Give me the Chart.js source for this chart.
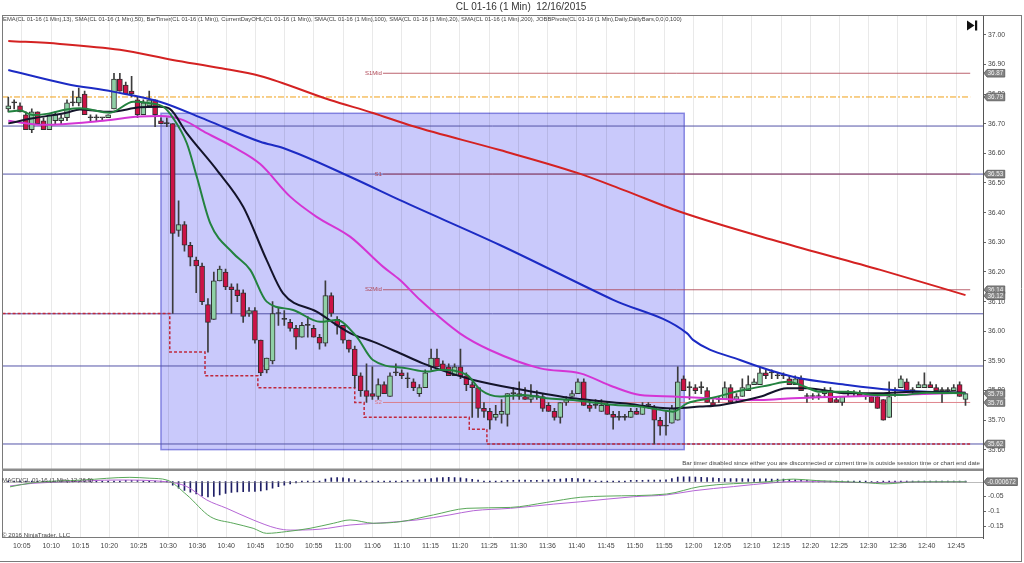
<!DOCTYPE html>
<html><head><meta charset="utf-8">
<script src="https://cdn.jsdelivr.net/npm/chart.js@4/dist/chart.umd.min.js"></script>
<style>html,body{margin:0;padding:0;background:#fff;overflow:hidden}canvas{display:block}</style>
</head><body>
<canvas id="c" width="1024" height="563"></canvas>
<script>
// ---------- DATA ----------
const open  = [36.75,36.77,36.76,36.73,36.68,36.74,36.71,36.68,36.71,36.71,36.72,36.77,36.77,36.80,36.72,36.72,36.72,36.72,36.75,36.85,36.83,36.81,36.78,36.73,36.76,36.78,36.71,36.70,36.70,36.34,36.36,36.29,36.24,36.22,36.09,36.04,36.17,36.20,36.15,36.14,36.13,36.06,36.07,35.97,35.87,35.90,36.06,36.04,36.03,36.01,35.98,36.02,36.01,35.98,35.96,36.12,36.04,36.02,35.97,35.94,35.85,35.80,35.79,35.78,35.82,35.78,35.86,35.86,35.84,35.83,35.79,35.81,35.88,35.91,35.89,35.88,35.85,35.88,35.85,35.82,35.81,35.74,35.73,35.71,35.72,35.72,35.79,35.79,35.78,35.77,35.78,35.78,35.75,35.73,35.71,35.76,35.78,35.79,35.83,35.75,35.75,35.73,35.75,35.72,35.71,35.71,35.71,35.73,35.72,35.75,35.74,35.70,35.68,35.69,35.70,35.84,35.81,35.81,35.81,35.80,35.76,35.77,35.77,35.81,35.77,35.78,35.80,35.82,35.82,35.86,35.86,35.85,35.85,35.84,35.82,35.84,35.78,35.78,35.78,35.79,35.80,35.77,35.76,35.79,35.79,35.79,35.78,35.78,35.78,35.77,35.71,35.80,35.81,35.83,35.80,35.81,35.81,35.82,35.81,35.80,35.80,35.80,35.82,35.77];
const high  = [36.79,36.78,36.77,36.74,36.75,36.74,36.72,36.73,36.74,36.73,36.78,36.81,36.82,36.81,36.73,36.73,36.72,36.73,36.87,36.87,36.84,36.86,36.79,36.78,36.81,36.78,36.72,36.72,36.70,36.44,36.37,36.30,36.25,36.23,36.11,36.20,36.22,36.21,36.16,36.16,36.14,36.08,36.08,35.97,35.91,36.10,36.08,36.07,36.04,36.02,36.03,36.05,36.02,35.99,36.17,36.13,36.05,36.02,35.97,35.95,35.86,35.89,35.88,35.84,35.83,35.86,35.89,35.87,35.86,35.84,35.82,35.87,35.94,35.94,35.90,35.89,35.89,35.94,35.86,35.83,35.81,35.76,35.74,35.75,35.77,35.79,35.81,35.83,35.81,35.82,35.80,35.79,35.76,35.74,35.76,35.78,35.80,35.84,35.84,35.76,35.77,35.77,35.76,35.73,35.73,35.72,35.74,35.74,35.76,35.76,35.75,35.71,35.73,35.75,35.88,35.85,35.83,35.82,35.83,35.81,35.77,35.78,35.83,35.82,35.79,35.84,35.85,35.84,35.88,35.87,35.87,35.86,35.86,35.85,35.85,35.85,35.79,35.79,35.79,35.81,35.81,35.78,35.78,35.80,35.80,35.80,35.79,35.79,35.79,35.77,35.83,35.81,35.85,35.84,35.81,35.83,35.86,35.83,35.82,35.81,35.81,35.82,35.83,35.79];
const low   = [36.74,36.75,36.74,36.68,36.67,36.70,36.68,36.68,36.70,36.70,36.71,36.76,36.76,36.73,36.71,36.71,36.71,36.72,36.75,36.81,36.80,36.79,36.72,36.73,36.76,36.69,36.70,36.69,36.06,36.32,36.27,36.22,36.13,36.09,35.93,36.04,36.17,36.14,36.06,36.10,36.03,36.05,35.96,35.85,35.86,35.89,36.02,36.02,36.00,35.94,35.98,35.98,35.98,35.94,35.95,36.05,35.99,35.96,35.93,35.81,35.78,35.76,35.77,35.77,35.79,35.78,35.85,35.84,35.81,35.80,35.78,35.81,35.87,35.88,35.87,35.85,35.85,35.84,35.80,35.71,35.71,35.71,35.67,35.70,35.69,35.68,35.77,35.77,35.77,35.76,35.77,35.73,35.73,35.70,35.69,35.75,35.78,35.79,35.75,35.73,35.74,35.73,35.72,35.67,35.70,35.70,35.71,35.72,35.72,35.74,35.62,35.65,35.65,35.69,35.70,35.80,35.77,35.79,35.79,35.76,35.75,35.76,35.77,35.76,35.76,35.78,35.80,35.82,35.82,35.84,35.84,35.84,35.84,35.82,35.82,35.80,35.76,35.77,35.77,35.78,35.76,35.76,35.75,35.78,35.78,35.78,35.77,35.76,35.74,35.70,35.71,35.78,35.81,35.80,35.79,35.81,35.81,35.81,35.80,35.76,35.79,35.80,35.78,35.75];
const close = [36.76,36.77,36.74,36.68,36.74,36.70,36.68,36.73,36.73,36.72,36.77,36.77,36.79,36.73,36.72,36.72,36.72,36.73,36.85,36.81,36.80,36.80,36.73,36.77,36.78,36.73,36.70,36.70,36.33,36.36,36.29,36.25,36.22,36.10,36.03,36.17,36.21,36.15,36.14,36.12,36.05,36.07,35.97,35.86,35.91,36.06,36.06,36.04,36.01,35.98,36.02,36.02,35.98,35.96,36.12,36.06,36.02,35.97,35.94,35.85,35.80,35.78,35.78,35.82,35.79,35.85,35.86,35.85,35.84,35.81,35.81,35.86,35.91,35.88,35.87,35.85,35.88,35.85,35.82,35.81,35.74,35.73,35.70,35.72,35.73,35.79,35.79,35.78,35.77,35.78,35.78,35.74,35.73,35.71,35.76,35.77,35.79,35.83,35.75,35.74,35.75,35.75,35.72,35.71,35.71,35.71,35.73,35.72,35.75,35.75,35.70,35.68,35.68,35.74,35.83,35.80,35.81,35.80,35.81,35.76,35.75,35.77,35.81,35.76,35.78,35.81,35.82,35.83,35.86,35.85,35.86,35.85,35.85,35.82,35.84,35.80,35.78,35.78,35.78,35.80,35.76,35.76,35.78,35.79,35.79,35.78,35.78,35.76,35.74,35.70,35.78,35.80,35.84,35.80,35.80,35.82,35.82,35.81,35.80,35.80,35.80,35.81,35.78,35.79];

// moving averages read at sample bars: [barIndex, price]
const ema13  = [[0,36.740],[2,36.744],[4.2,36.729],[6.5,36.733],[9.9,36.748],[12.2,36.752],[17.3,36.737],[21.3,36.774],[24.1,36.769],[26.4,36.757],[28.1,36.718],[30.4,36.634],[32.1,36.521],[34.4,36.364],[38.3,36.263],[41.2,36.207],[44,36.100],[48.5,36.072],[53.1,36.032],[55.9,36.038],[59.3,35.982],[62.1,35.903],[67.9,35.875],[71.3,35.864],[73.5,35.870],[78.1,35.853],[80.4,35.803],[83.7,35.780],[87.7,35.785],[91.7,35.774],[96.2,35.768],[103,35.752],[107.6,35.746],[111,35.735],[113.2,35.729],[115.6,35.757],[119.5,35.774],[125.2,35.802],[129.7,35.819],[132.6,35.830],[134.9,35.819],[138.3,35.796],[142.9,35.796],[148,35.785],[152,35.785],[156.5,35.793],[163,35.791]];
const sma20  = [[0,36.701],[4.2,36.718],[9.9,36.737],[12.2,36.748],[17.3,36.740],[22.4,36.755],[25.8,36.757],[27.5,36.750],[30.4,36.668],[35.5,36.544],[40,36.420],[44,36.240],[46.8,36.128],[52.5,36.066],[58.2,35.994],[62.1,35.965],[66.7,35.926],[70.6,35.892],[79.2,35.836],[87.7,35.802],[96.2,35.774],[104.7,35.757],[113.2,35.740],[117.8,35.746],[121.2,35.751],[128,35.779],[132.6,35.808],[136,35.808],[142.9,35.791],[148.5,35.791],[154.1,35.796],[163,35.793]];
const sma50  = [[0,36.710],[5.9,36.696],[15.6,36.709],[22.4,36.724],[25.8,36.726],[29.8,36.712],[33.8,36.668],[38.3,36.622],[42.9,36.564],[48,36.454],[52.5,36.386],[58.2,36.319],[63.8,36.218],[66.7,36.173],[70.1,36.106],[76.9,35.993],[82,35.937],[90.6,35.875],[97.4,35.858],[103,35.813],[107.6,35.785],[113.2,35.780],[119.5,35.774],[128,35.768],[133.6,35.774],[142.9,35.780],[150.7,35.785],[163,35.793]];
const sma100 = [[0,36.881],[9.9,36.834],[17.8,36.808],[25.8,36.774],[33.8,36.712],[42.9,36.639],[46.8,36.618],[58.2,36.521],[66.7,36.442],[83.7,36.291],[103,36.106],[115.6,35.993],[116.6,35.971],[124.6,35.903],[133.6,35.847],[142.9,35.819],[150.7,35.802],[163,35.791]];
const sma200 = [[0,36.979],[8.8,36.969],[19,36.949],[28,36.915],[36,36.888],[42.9,36.861],[54.8,36.780],[62.1,36.736],[68.8,36.692],[83.7,36.611],[96.9,36.534],[104.7,36.477],[114.4,36.403],[131.4,36.301],[148.5,36.207],[163,36.122]];

// current day low (step changes): [barIndex, price]
const dayLow = [[-1.07,36.53],[27.5,36.06],[33.5,35.93],[42.5,35.85],[59,35.81],[60.6,35.76],[78.5,35.71],[81.5,35.67],[109.6,35.62],[163.8,35.62]];
const dayOpen = 36.79;
const hLines = [36.692, 36.530, 36.059, 35.883, 35.620];
const pivotNames = ['S1Mid','S1','S2Mid','S2'];
const pivotVals  = [36.87, 36.53, 36.14, 35.76];
const pivotSpan  = [63.8, 163.8];
const zoneIdx   = [26.0, 115.1];
const zonePrice = [36.735, 35.601];
const flagVals  = [36.87, 36.79, 36.53, 36.14, 36.12, 35.79, 35.76, 35.62];
const macdFlag  = -0.000672;

// MACD panel
const macdLine = [[0.3,-0.018],[4.2,-0.004],[12.7,0.005],[20.7,0.014],[24.1,0.011],[27,0.005],[30.4,-0.045],[34.4,-0.118],[38.3,-0.140],[41.7,-0.157],[44,-0.174],[47.4,-0.168],[51.4,-0.157],[55.4,-0.140],[58.2,-0.129],[62.2,-0.140],[66.7,-0.135],[72.4,-0.112],[78.1,-0.090],[85.5,-0.087],[91.7,-0.070],[97.4,-0.053],[101.9,-0.049],[112.1,-0.042],[117.8,-0.017],[129.2,-0.001],[133.7,0.008],[137.7,0.003],[146.2,-0.004],[149.1,-0.008],[154.7,-0.001],[163.2,-0.001]];
const macdAvg  = [[0.3,-0.015],[4.2,-0.006],[9.9,-0.001],[18.5,0.005],[27,-0.001],[30.4,-0.017],[33.8,-0.062],[37.2,-0.090],[41.7,-0.129],[45.7,-0.157],[48,-0.163],[53.1,-0.160],[58.2,-0.146],[62.7,-0.140],[69.6,-0.129],[75.2,-0.112],[79.2,-0.098],[85.5,-0.090],[92.8,-0.076],[97.4,-0.068],[106.5,-0.051],[112.1,-0.045],[116.7,-0.031],[123.5,-0.017],[130.3,-0.004],[134.8,0.001],[140.5,-0.001],[146.2,-0.004],[151.9,-0.002],[163.2,-0.001]];
const macdHist = [0,0,0,0,0,0,0,0,0,0,0,0,0,0,0,0,0,0.002,0.002,0.002,0.004,0.004,0.004,0.003,0.003,0.001,0,-0.002,
 -0.012,-0.022,-0.030,-0.036,-0.042,-0.048,-0.052,-0.050,-0.045,-0.040,-0.037,-0.035,-0.034,-0.033,-0.033,-0.032,-0.028,-0.022,-0.017,-0.012,-0.008,-0.005,-0.003,-0.002,-0.001,
 0.002,0.008,0.012,0.013,0.012,0.010,0.006,0.002,-0.001,-0.002,-0.002,-0.001,0.001,0.002,0.003,0.004,0.005,0.006,
 0.008,0.010,0.012,0.013,0.014,0.013,0.012,0.010,0.007,0.005,0.003,0.002,
 0.003,0.003,0.004,0.004,0.005,0.005,0.004,0.004,0.005,0.006,0.007,0.008,0.010,0.011,0.010,0.008,0.005,
 0.003,0.003,0.002,0.002,0.003,0.003,0.004,0.004,0.004,0.005,0.005,0.005,0.006,
 0.010,0.015,0.016,0.016,0.015,0.014,0.013,0.012,
 0.011,0.010,0.010,0.010,0.010,0.009,0.009,0.009,0.009,0.008,0.008,0.008,0.007,0.006,0.005,
 0.004,0.003,0.002,0.000,-0.002,-0.003,-0.003,-0.003,-0.002,-0.002,-0.003,-0.004,-0.004,-0.003,-0.001,
 0.002,0.003,0.003,0.003,0.003,0.003,0.002,0.002,0.001,0.001,0.000,0.000,0.000];

// axes
const timeTickPos = [2.3,7.3,12.3,17.2,22.2,27.2,32.2,37.1,42.1,47.1,52.0,57.0,62.0,67.0,71.9,76.9,81.9,86.9,91.8,96.8,101.8,106.7,111.7,116.7,121.6,126.6,131.6,136.6,141.5,146.5,151.5,156.4,161.4];
const timeLabels  = ['10:05','10:10','10:15','10:20','10:25','10:30','10:36','10:40','10:45','10:50','10:55','11:00','11:06','11:10','11:15','11:20','11:25','11:30','11:36','11:40','11:45','11:50','11:55','12:00','12:05','12:10','12:15','12:20','12:25','12:30','12:36','12:40','12:45'];
const priceTicks  = [35.6,35.7,35.8,35.9,36.0,36.1,36.2,36.3,36.4,36.5,36.6,36.7,36.8,36.9,37.0];
const macdTicks   = [-0.15,-0.1,-0.05];

// ---------- CHART ----------
const FONT = '"Liberation Sans", Arial, sans-serif';
const X_MIN = -1.07, X_MAX = 165.98;
const pts = arr => arr.map(p => ({x:p[0], y:p[1]}));
const hl = (v, a, b) => [{x:a, y:v}, {x:b, y:v}];

const bodyColors = open.map((o,i) => close[i] > o ? '#8fd0a6' : (close[i] < o ? '#cc1346' : '#333333'));

const datasets = [];
const maLine = (data, color, ord) => ({type:'line', data:pts(data), borderColor:color, borderWidth:2, pointRadius:0, cubicInterpolationMode:'monotone', order:ord, yAxisID:'y', xAxisID:'x'});
datasets.push(maLine(ema13, '#23823f', 1));
datasets.push(maLine(sma20, '#14142a', 1));
datasets.push(maLine(sma50, '#d435d4', 2));
datasets.push(maLine(sma100, '#1c2bc4', 2));
datasets.push(maLine(sma200, '#d42222', 2));
datasets.push({type:'bar', data: open.map((o,i)=>({x:i, y:[o, close[i]]})), backgroundColor: bodyColors, borderColor:'#303030', borderWidth:1, borderSkipped:false, barThickness:5, minBarLength:1, grouped:false, order:4, yAxisID:'y', xAxisID:'x'});
datasets.push({type:'bar', data: open.map((o,i)=>({x:i, y:[low[i], high[i]]})), backgroundColor:'#3c3c3c', barThickness:1, grouped:false, order:5, yAxisID:'y', xAxisID:'x'});
datasets.push({type:'line', data:pts(dayLow), stepped:'after', borderColor:'#c0283c', borderWidth:1.5, borderDash:[3,2], pointRadius:0, order:6, yAxisID:'y', xAxisID:'x'});
datasets.push({type:'line', data:hl(dayOpen, X_MIN, 163.8), borderColor:'#f0a018', borderWidth:1, borderDash:[6,2,2,2], pointRadius:0, order:7, yAxisID:'y', xAxisID:'x'});
pivotVals.forEach((v,k) => datasets.push({type:'line', data:hl(v, pivotSpan[0], pivotSpan[1]), borderColor: k===3 ? 'rgba(220,120,130,0.9)' : 'rgba(175,70,85,0.85)', borderWidth:1, pointRadius:0, order:7, yAxisID:'y', xAxisID:'x'}));
hLines.forEach(v => datasets.push({type:'line', data:hl(v, X_MIN, X_MAX), borderColor:'#5454a8', borderWidth:1, pointRadius:0, order:8, yAxisID:'y', xAxisID:'x'}));
// MACD
datasets.push({type:'line', data:pts(macdLine), borderColor:'#5aa85a', borderWidth:1, pointRadius:0, cubicInterpolationMode:'monotone', order:1, yAxisID:'y2', xAxisID:'x'});
datasets.push({type:'line', data:pts(macdAvg), borderColor:'#b566d6', borderWidth:1, pointRadius:0, cubicInterpolationMode:'monotone', order:1, yAxisID:'y2', xAxisID:'x'});
datasets.push({type:'bar', data: macdHist.map((v,i)=>({x:i, y:[0, v]})), backgroundColor:'#1e1e66', barThickness:1, minBarLength:1, grouped:false, order:3, yAxisID:'y2', xAxisID:'x'});

const deco = {
  id:'deco',
  beforeDraw(c){
    const ctx = c.ctx, xs = c.scales.x, ys = c.scales.y;
    ctx.save();
    ctx.fillStyle = '#fff'; ctx.fillRect(0,0,c.width,c.height);
    const x1 = xs.getPixelForValue(zoneIdx[0]), x2 = xs.getPixelForValue(zoneIdx[1]);
    const y1 = ys.getPixelForValue(zonePrice[0]), y2 = ys.getPixelForValue(zonePrice[1]);
    ctx.fillStyle = '#c9c9fb'; ctx.fillRect(x1, y1, x2-x1, y2-y1);
    ctx.strokeStyle = 'rgba(100,100,215,0.75)'; ctx.lineWidth = 1.5;
    ctx.strokeRect(x1, y1, x2-x1, y2-y1);
    ctx.restore();
  },
  afterDatasetsDraw(c){
    const ctx = c.ctx, xs = c.scales.x, ys = c.scales.y, y2s = c.scales.y2;
    ctx.save();
    // MACD zero line
    const z = Math.round(y2s.getPixelForValue(0)) + 0.5;
    ctx.strokeStyle = 'rgba(120,120,120,0.5)'; ctx.lineWidth = 1;
    ctx.beginPath(); ctx.moveTo(c.chartArea.left, z); ctx.lineTo(c.chartArea.right, z); ctx.stroke();
    // pivot labels
    ctx.font = '6px ' + FONT; ctx.textAlign = 'right'; ctx.textBaseline = 'middle';
    pivotVals.forEach((v,k) => {
      ctx.fillStyle = k===3 ? 'rgba(220,120,130,1)' : 'rgba(175,70,85,1)';
      ctx.fillText(pivotNames[k], xs.getPixelForValue(pivotSpan[0]) - 1, ys.getPixelForValue(v));
    });
    ctx.restore();
  },
  afterDraw(c){
    const ctx = c.ctx, ys = c.scales.y, y2s = c.scales.y2, ca = c.chartArea;
    ctx.save();
    // frames
    ctx.strokeStyle = '#7a7a7a'; ctx.lineWidth = 1;
    ctx.beginPath();
    ctx.moveTo(2, 15.5); ctx.lineTo(1022, 15.5);
    ctx.moveTo(2.5, 15); ctx.lineTo(2.5, 538);
    ctx.moveTo(2, 537.5); ctx.lineTo(983, 537.5);
    ctx.moveTo(0, 561.5); ctx.lineTo(1022, 561.5);
    ctx.moveTo(1021.5, 15); ctx.lineTo(1021.5, 562);
    ctx.stroke();
    ctx.fillStyle = '#8c8c8c';
    ctx.fillRect(2, 468.5, 981, 2.5);
    // title
    ctx.fillStyle = '#333'; ctx.font = '10px ' + FONT; ctx.textAlign = 'center'; ctx.textBaseline = 'middle';
    ctx.fillText('CL 01-16 (1 Min)  12/16/2015', 521, 7.5);
    // indicator legend
    const leg = 'EMA(CL 01-16 (1 Min),13), SMA(CL 01-16 (1 Min),50), BarTimer(CL 01-16 (1 Min)), CurrentDayOHL(CL 01-16 (1 Min)), SMA(CL 01-16 (1 Min),100), SMA(CL 01-16 (1 Min),20), SMA(CL 01-16 (1 Min),200), JOBBPivots(CL 01-16 (1 Min),Daily,DailyBars,0,0,0,100)';
    ctx.font = '10px ' + FONT;
    const w = ctx.measureText(leg).width;
    const fs = 10 * 680 / w;
    ctx.font = fs.toFixed(2) + 'px ' + FONT; ctx.textAlign = 'left';
    ctx.fillStyle = '#444';
    ctx.fillText(leg, 3, 19);
    // MACD label / copyright / bar timer
    ctx.font = '6.2px ' + FONT;
    ctx.fillText('MACD(CL 01-16 (1 Min),12,26,9)', 2, 480);
    ctx.fillText('\u00A9 2016 NinjaTrader, LLC', 2, 535);
    ctx.textAlign = 'right';
    ctx.fillText('Bar timer disabled since either you are disconnected or current time is outside session time or chart end date', 980, 463);
    // play-to-end icon
    ctx.fillStyle = '#111';
    ctx.beginPath(); ctx.moveTo(967, 20.5); ctx.lineTo(974.5, 25.5); ctx.lineTo(967, 30.5); ctx.closePath(); ctx.fill();
    ctx.fillRect(975, 20.5, 2.2, 10);
    // flags
    const flag = (yy, txt) => {
      ctx.font = '6.3px ' + FONT;
      const tw = ctx.measureText(txt).width;
      const x0 = 984, h = 3.8;
      ctx.fillStyle = '#858585'; ctx.strokeStyle = '#555';
      ctx.beginPath();
      ctx.moveTo(x0, yy); ctx.lineTo(x0+3, yy-h); ctx.lineTo(x0+5+tw, yy-h); ctx.lineTo(x0+5+tw, yy+h); ctx.lineTo(x0+3, yy+h); ctx.closePath();
      ctx.fill(); ctx.lineWidth = 0.8; ctx.stroke();
      ctx.fillStyle = '#f2f2f2'; ctx.textAlign = 'left'; ctx.textBaseline = 'middle';
      ctx.fillText(txt, x0+3.5, yy+0.3);
    };
    flagVals.forEach(v => flag(ys.getPixelForValue(v), v.toFixed(2)));
    flag(y2s.getPixelForValue(macdFlag), macdFlag.toFixed(6));
    ctx.restore();
  }
};

new Chart(document.getElementById('c'), {
  type: 'line',
  data: { datasets },
  options: {
    responsive:false, animation:false, devicePixelRatio:1,
    layout:{ padding:{top:15, left:2, right:0, bottom:0} },
    plugins:{ legend:{display:false}, tooltip:{enabled:false}, title:{display:false} },
    scales:{
      x:{ type:'linear', min:X_MIN, max:X_MAX, offset:false,
          afterBuildTicks: s => { s.ticks = timeTickPos.map(v => ({value:v})); },
          afterFit: s => { s.height = 25; },
          grid:{ color:'rgba(0,0,0,0.085)', drawTicks:false, offset:false },
          border:{ display:false },
          ticks:{ autoSkip:false, maxRotation:0, padding:4, color:'#444', font:{family:FONT, size:7},
                  callback:(v,i) => timeLabels[i] } },
      y:{ type:'linear', position:'right', stack:'p', stackWeight:454.5, min:35.534, max:37.0664,
          afterBuildTicks: s => { s.ticks = priceTicks.map(v => ({value:v})); },
          afterFit: s => { s.width = 41; },
          grid:{ drawOnChartArea:false, drawTicks:true, tickLength:3, tickColor:'#666' },
          border:{ display:true, color:'#555' },
          ticks:{ autoSkip:false, padding:2, color:'#444', font:{family:FONT, size:6.8}, callback: v => Number(v).toFixed(2) } },
      y2:{ type:'linear', position:'right', stack:'p', stackWeight:68.5, min:-0.1896, max:0.0403,
          afterBuildTicks: s => { s.ticks = macdTicks.map(v => ({value:v})); },
          afterFit: s => { s.width = 41; },
          grid:{ drawOnChartArea:false, drawTicks:true, tickLength:3, tickColor:'#666' },
          border:{ display:true, color:'#555' },
          ticks:{ autoSkip:false, padding:2, color:'#444', font:{family:FONT, size:6.8}, callback: v => String(v) } }
    }
  },
  plugins:[deco]
});
</script>
</body></html>
